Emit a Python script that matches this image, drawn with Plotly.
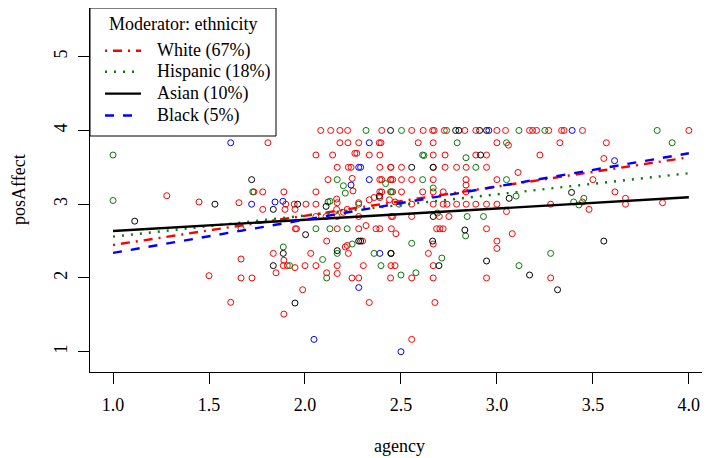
import plotly.graph_objects as go

# ---- data (agency, posAffect) per ethnicity ----
white_agency = [1.28, 1.448, 1.656, 1.667, 1.667, 1.5, 1.667, 1.724, 1.613,
                2.113, 2.21, 2.22, 2.30, 1.835, 2.03, 2.226, 2.448, 1.89, 1.887, 1.908, 1.948, 2.0, 2.057,
                2.168, 2.304, 2.448, 2.469, 1.849, 2.113, 2.168, 2.245, 2.28, 2.446, 1.988, 2.335, 1.89,
                2.474, 3.08, 2.668, 3.0, 3.0, 2.643, 2.668, 2.556, 2.668, 2.946, 3.28, 2.677, 2.556,
                2.082, 2.134, 2.182, 2.222, 2.4,
                1.807, 2.182, 2.224, 2.28, 2.387, 2.396,
                2.057, 2.144, 2.26, 2.27, 2.335, 2.39,
                2.168, 2.226, 2.24, 2.39, 2.446,
                2.12, 2.246, 2.39, 2.40, 2.446,
                1.734, 1.78, 1.89, 2.057, 2.25, 2.39, 2.40, 2.45,
                1.90, 1.944, 2.005, 2.057, 2.165, 2.168, 2.28, 2.335, 2.36, 2.39, 2.44, 2.47,
                1.78, 1.896, 1.948, 2.165, 2.2, 2.22,
                2.057, 2.11, 2.168, 2.28, 2.45,
                1.95, 1.956, 2.168, 2.28, 2.318, 2.37, 2.39, 2.45,
                2.556, 2.616, 2.665, 2.673, 2.726, 2.833, 2.89, 3.0, 3.045, 3.17, 3.186, 3.207, 3.27,
                3.337, 3.35, 3.446, 4.0,
                2.59, 2.668, 3.0, 3.06, 3.328, 3.57,
                2.668, 2.73, 2.89, 2.946, 3.224, 3.557,
                2.448, 2.503, 2.668, 2.73, 2.79, 2.84, 2.946, 3.11,
                2.448, 2.457, 2.503, 2.556, 2.668, 2.839, 3.0, 3.5,
                2.839, 2.613, 2.668, 2.72, 2.839, 2.503, 3.615,
                2.556, 2.668, 2.72, 2.74, 2.79, 2.84, 2.89, 2.946, 3.0,
                3.28, 3.446, 3.48, 3.67, 3.67, 3.863,
                2.457, 2.556, 2.7, 2.75, 3.05,
                2.686, 2.703, 2.72, 2.946]
white_pos = [3.115, 3.03, 3.02, 2.67, 2.257, 2.03, 2.0, 2.0, 1.67,
             2.5, 2.42, 2.44, 2.5, 2.333, 2.333, 2.333, 2.333, 2.24, 2.167, 2.167, 2.14, 2.167, 2.167,
             2.167, 2.167, 2.167, 2.167, 2.07, 2.07, 2.06, 2.0, 2.0, 2.0, 1.84, 1.667, 1.51,
             2.6, 2.6, 2.46, 2.5, 2.4, 2.333, 2.167, 2.0, 2.0, 2.0, 2.0, 1.667, 1.167,
             4.0, 4.0, 4.0, 4.0, 4.0,
             3.833, 3.833, 3.833, 3.833, 3.833, 3.833,
             3.667, 3.667, 3.69, 3.69, 3.667, 3.667,
             3.5, 3.5, 3.5, 3.5, 3.5,
             3.333, 3.35, 3.333, 3.333, 3.333,
             3.167, 3.167, 3.167, 3.167, 3.18, 3.167, 3.167, 3.167,
             3.0, 3.0, 3.0, 3.0, 3.07, 3.02, 3.02, 3.06, 3.09, 3.09, 3.06, 3.03,
             2.93, 2.93, 2.93, 2.93, 2.89, 2.93,
             2.833, 2.833, 2.833, 2.833, 2.833,
             2.667, 2.667, 2.667, 2.667, 2.71, 2.667, 2.667, 2.667,
             4.0, 4.0, 4.0, 4.0, 4.0, 4.0, 4.0, 4.0, 4.0, 4.0, 4.0, 4.0, 4.0,
             4.0, 4.0, 4.0, 4.0,
             3.833, 3.833, 3.833, 3.8, 3.833, 3.833,
             3.667, 3.667, 3.667, 3.667, 3.667, 3.62,
             3.5, 3.5, 3.5, 3.5, 3.5, 3.5, 3.5, 3.43,
             3.333, 3.333, 3.333, 3.333, 3.333, 3.333, 3.333, 3.333,
             3.26, 3.167, 3.167, 3.167, 3.167, 3.167, 3.167,
             3.0, 3.0, 3.0, 3.0, 3.0, 3.0, 3.0, 3.0, 3.0,
             3.0, 3.03, 2.93, 3.08, 3.0, 3.02,
             2.833, 2.833, 2.833, 2.833, 2.9,
             2.667, 2.667, 2.667, 2.667]

hisp_agency = [1.0, 1.0, 2.246, 1.887, 2.168, 2.36, 2.448, 2.092, 1.92, 2.396, 2.113, 2.837, 2.556,
               2.713, 3.28, 3.115, 2.5, 2.578,
               2.318, 2.168, 2.42, 2.2, 1.728, 2.21, 2.446, 2.12, 2.13, 2.28, 2.49, 2.057, 2.13, 2.22,
               2.503, 2.738, 3.115, 3.25, 3.835, 2.793, 3.05, 3.913, 2.613, 2.62, 2.839, 2.89,
               2.613, 3.05, 2.457, 2.668, 3.1, 3.4, 3.427, 3.453, 2.69, 2.845, 2.93]
hisp_pos = [3.667, 3.05, 2.46, 2.42, 2.333, 2.333, 2.333, 2.25, 2.167, 2.167, 2.0, 2.57, 2.47,
            2.27, 2.333, 2.167, 2.04, 2.07,
            4.0, 3.333, 3.28, 3.25, 3.167, 3.15, 3.167, 3.03, 3.04, 3.0, 3.0, 2.667, 2.667, 2.667,
            4.0, 4.0, 4.0, 4.0, 4.0, 3.833, 3.833, 3.833, 3.667, 3.66, 3.63, 3.5,
            3.333, 3.333, 3.167, 3.22, 3.11, 3.03, 2.99, 3.08, 2.88, 2.833, 2.833]

asian_agency = [1.531, 1.113, 1.722, 2.003, 2.28, 2.29, 1.887, 2.168, 2.448, 1.835, 1.948, 2.665,
                2.946, 2.698, 3.17, 3.557, 3.316,
                2.446, 2.387, 1.962, 2.11, 1.835,
                2.785, 2.802, 2.91, 2.946, 2.915, 2.556, 2.668, 3.064, 3.389, 2.668, 2.833]
asian_pos = [3.0, 2.77, 3.333, 2.587, 2.5, 2.5, 2.333, 2.37, 2.333, 2.167, 1.66, 2.5,
             2.23, 2.167, 2.04, 2.5, 1.84,
             4.0, 3.11, 3.0, 2.97, 2.93,
             4.0, 4.0, 4.0, 4.0, 3.667, 3.5, 3.5, 3.08, 3.16, 2.833, 2.65]

black_agency = [1.613, 2.28, 2.047, 2.5, 2.39, 1.722, 1.844, 1.885, 2.335, 2.28, 2.29, 2.335,
                2.24, 3.392, 2.958, 3.613]
black_pos = [3.833, 1.87, 1.167, 1.0, 2.333, 3.0, 3.03, 3.04, 3.833, 3.5, 3.5, 3.333,
             3.26, 4.0, 4.0, 3.59]

# fitted simple slopes, evaluated at agency = 1 and 4
fit_x = [1.0, 4.0]
white_fit = [2.447, 3.636]
hisp_fit = [2.56, 3.42]
asian_fit = [2.637, 3.094]
black_fit = [2.34, 3.69]

legend_labels = ["White (67%)", "Hispanic (18%)", "Asian (10%)", "Black (5%)"]
legend_title = "Moderator: ethnicity"

RED = "#ff0000"
GREEN = "#0a7a0a"
BLACK = "#000000"
BLUE = "#0000ff"
FONT = "Liberation Serif"

groups = [
    (white_agency, white_pos, white_fit, RED, "2px,6px,9px,6px"),
    (hisp_agency, hisp_pos, hisp_fit, GREEN, "2px,7px"),
    (asian_agency, asian_pos, asian_fit, BLACK, "solid"),
    (black_agency, black_pos, black_fit, BLUE, "9px,9px"),
]

fig = go.Figure()
for xs, ys, fit, col, dash in groups:
    fig.add_trace(go.Scatter(x=xs, y=ys, mode="markers", showlegend=False,
                             marker=dict(symbol="circle-open", size=6, color=col,
                                         line=dict(width=1, color=col))))
for xs, ys, fit, col, dash in groups:
    fig.add_trace(go.Scatter(x=fit_x, y=fit, mode="lines", showlegend=False,
                             line=dict(color=col, width=2.4, dash=dash)))

# the page body adds an 8px margin, so the figure starts at (8, 8)
OFF = 8
W, H = 710 - OFF, 458 - OFF
# plot box in page pixels
L, R, T, B = 90, 709, 8, 372
def px(x): return (x - L) / (R - L)
def py(y): return (B - y) / (B - T)

shapes = [dict(type="rect", xref="paper", yref="paper", x0=0, x1=px(276), y0=py(136), y1=1,
               line=dict(color="black", width=1), fillcolor="white", layer="above")]
annotations = [dict(text=legend_title, xref="paper", yref="paper", x=px(183), y=py(24),
                    showarrow=False, xanchor="center", yanchor="middle",
                    font=dict(family=FONT, size=18, color="black"))]
rows = [50.7, 71.8, 93.6, 115.5]
for (xs, ys, fit, col, dash), lab, ry in zip(groups, legend_labels, rows):
    shapes.append(dict(type="line", xref="paper", yref="paper", x0=px(105), x1=px(141),
                       y0=py(ry), y1=py(ry), layer="above",
                       line=dict(color=col, width=2.4, dash=dash)))
    annotations.append(dict(text=lab, xref="paper", yref="paper", x=px(155), y=py(ry),
                            showarrow=False, xanchor="left", yanchor="middle",
                            font=dict(family=FONT, size=18, color="black")))
annotations.append(dict(text="agency", xref="paper", yref="paper", x=0.5, y=py(446),
                        showarrow=False, xanchor="center", yanchor="middle",
                        font=dict(family=FONT, size=18, color="black")))
annotations.append(dict(text="posAffect", xref="paper", yref="paper", x=px(19), y=0.5,
                        showarrow=False, xanchor="center", yanchor="middle", textangle=-90,
                        font=dict(family=FONT, size=18, color="black")))

fig.update_layout(
    width=W, height=H,
    margin=dict(l=L - OFF, r=W - (R - OFF), t=T - OFF, b=H - (B - OFF), autoexpand=False),
    paper_bgcolor="white", plot_bgcolor="white",
    font=dict(family=FONT, size=18, color="black"),
    shapes=shapes, annotations=annotations,
    xaxis=dict(range=[0.88, 4.105], tickvals=[1.0, 1.5, 2.0, 2.5, 3.0, 3.5, 4.0],
               tickformat=".1f", ticks="outside", ticklen=11, tickcolor="black",
               showline=True, linecolor="black", linewidth=1, mirror=True,
               showgrid=False, zeroline=False, ticklabelstandoff=5, automargin=False),
    yaxis=dict(range=[0.725, 5.66], tickvals=[1, 2, 3, 4, 5], tickangle=-90,
               ticks="outside", ticklen=11, tickcolor="black",
               showline=True, linecolor="black", linewidth=1, mirror=True,
               showgrid=False, zeroline=False, ticklabelstandoff=4, automargin=False),
)

fig.write_html("out.html")
